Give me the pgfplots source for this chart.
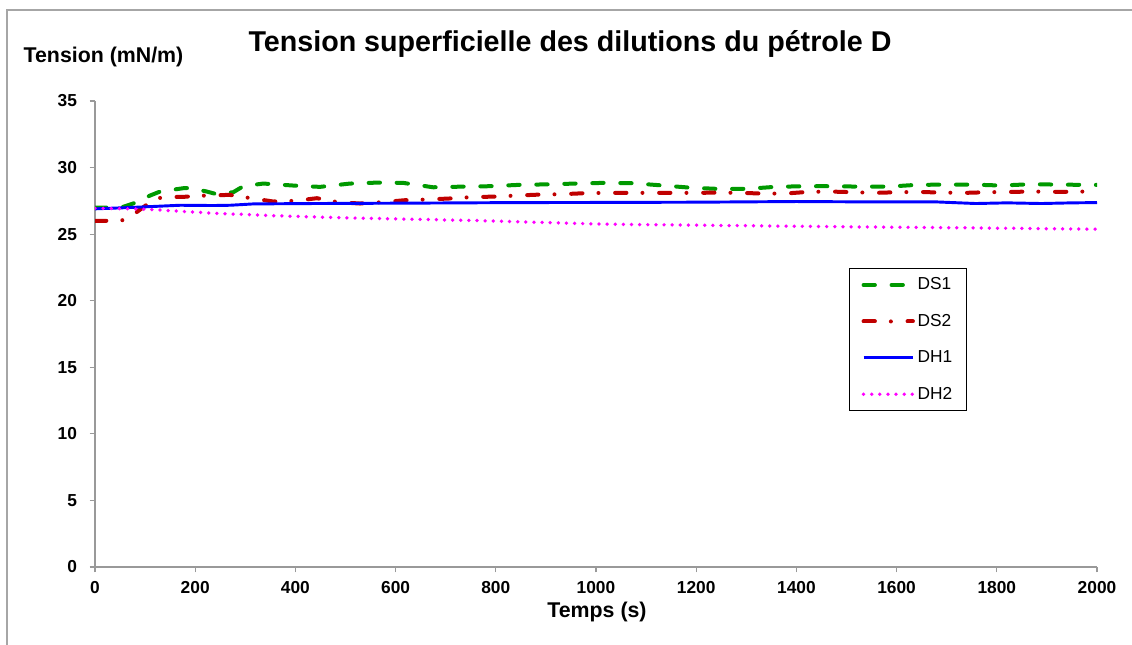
\documentclass[border=0pt]{standalone}
\usepackage{fontspec}
\setmainfont{Liberation Sans}
\usepackage{pgfplots}
\pgfplotsset{compat=1.18}
\definecolor{dsgreen}{RGB}{0,153,0}
\definecolor{dsred}{RGB}{192,0,0}
\definecolor{dhblue}{RGB}{0,0,255}
\definecolor{dhmag}{RGB}{255,0,255}
\begin{document}
\begin{tikzpicture}
\useasboundingbox (0,0) rectangle (849pt,483pt);
\draw[gray!70, line width=1.2pt] (5.25pt,-20pt) -- (5.25pt,475.5pt) -- (870pt,475.5pt);
\begin{axis}[
  at={(71.25pt,57.75pt)}, anchor=south west,
  scale only axis, width=751.5pt, height=349.5pt,
  xmin=0, xmax=2000, ymin=0, ymax=35,
  axis lines=left,
  axis line style={draw=gray!80, line width=0.8pt, -},
  tick style={draw=gray!80, line width=0.8pt},
  tick align=outside, major tick length=4pt,
  xtick={0,200,...,2000}, ytick={0,5,...,35},
  /pgf/number format/assume math mode=true,
  /pgf/number format/1000 sep={},
  ticklabel style={font=\fontsize{13}{13}\selectfont\bfseries},
  yticklabel style={xshift=-6pt},
  xticklabel style={yshift=-3pt},
  legend style={at={(0.7525,0.6416)}, anchor=north west, draw=black, line width=0.8pt,
    fill=white, font=\fontsize{13}{13}\selectfont, inner xsep=9pt, inner ysep=5pt,
    row sep=12.8pt,
    /tikz/every even column/.append style={column sep=3pt}},
  legend cell align=left,
  legend image code/.code={\draw[#1] (0pt,0pt) -- (37pt,0pt);},
]
\addplot[dsgreen, line width=3pt, line cap=round, dash pattern=on 8.5pt off 12.5pt] coordinates {
(0,27.0) (30,27.0) (56,27.05) (80,27.35) (110,27.9) (130,28.2) (176,28.45) (190,28.47)
(223,28.2) (243,28.0) (276,28.15) (296,28.6) (336,28.8) (396,28.65) (449,28.55) (509,28.8)
(563,28.87) (615,28.85) (675,28.52) (735,28.57) (788,28.6) (846,28.7) (903,28.74) (960,28.8)
(1015,28.85) (1072,28.83) (1128,28.67) (1185,28.5) (1242,28.4) (1300,28.4) (1357,28.55)
(1414,28.6) (1469,28.6) (1526,28.57) (1584,28.57) (1639,28.7) (1696,28.72) (1754,28.72)
(1809,28.65) (1867,28.75) (1923,28.72) (1980,28.7) (2000,28.7)};
\addlegendentry{DS1}
\addplot[dsred, line width=3pt, line cap=round, dash pattern=on 8.5pt off 12pt on 0pt off 12.5pt] coordinates {
(0,26.0) (25,26.0) (56,26.05) (83,26.65) (103,27.2) (133,27.78) (176,27.8) (222,27.9)
(269,27.95) (311,27.7) (356,27.45) (399,27.5) (443,27.7) (485,27.4) (529,27.3) (573,27.4)
(619,27.55) (662,27.6) (709,27.68) (752,27.78) (797,27.82) (842,27.9) (887,27.97) (932,28.0)
(974,28.07) (1019,28.1) (1064,28.1) (1109,28.1) (1154,28.1) (1199,28.1) (1244,28.12)
(1288,28.1) (1332,28.05) (1377,28.05) (1422,28.17) (1467,28.2) (1512,28.15) (1557,28.1)
(1602,28.15) (1646,28.17) (1691,28.12) (1736,28.1) (1781,28.15) (1826,28.17) (1871,28.2)
(1916,28.18) (1961,28.18) (2000,28.25)};
\addlegendentry{DS2}
\addplot[dhblue, line width=2.2pt] coordinates {
(0,26.9) (70,27.0) (170,27.17) (236,27.15) (270,27.17) (316,27.27) (436,27.3) (636,27.33)
(836,27.37) (1000,27.38) (1200,27.4) (1400,27.45) (1550,27.42) (1680,27.42) (1758,27.3)
(1820,27.35) (1889,27.3) (1950,27.35) (2000,27.37)};
\addlegendentry{DH1}
\addplot[dhmag, line width=2.8pt, line cap=round, dash pattern=on 0pt off 6.1pt] coordinates {
(0,26.95) (103,26.87) (236,26.57) (369,26.37) (503,26.22) (635,26.12) (762,26.02)
(1013,25.75) (1259,25.65) (1504,25.55) (1750,25.47) (2000,25.37)};
\addlegendentry{DH2}
\end{axis}
\node[font=\fontsize{21.5}{21.5}\selectfont\bfseries] at (427.5pt,450pt) {Tension superficielle des dilutions du pétrole D};
\node[font=\fontsize{16}{16}\selectfont\bfseries] at (77.6pt,440.25pt) {Tension (mN/m)};
\node[font=\fontsize{16}{16}\selectfont\bfseries] at (447.75pt,24pt) {Temps (s)};
\end{tikzpicture}
\end{document}
